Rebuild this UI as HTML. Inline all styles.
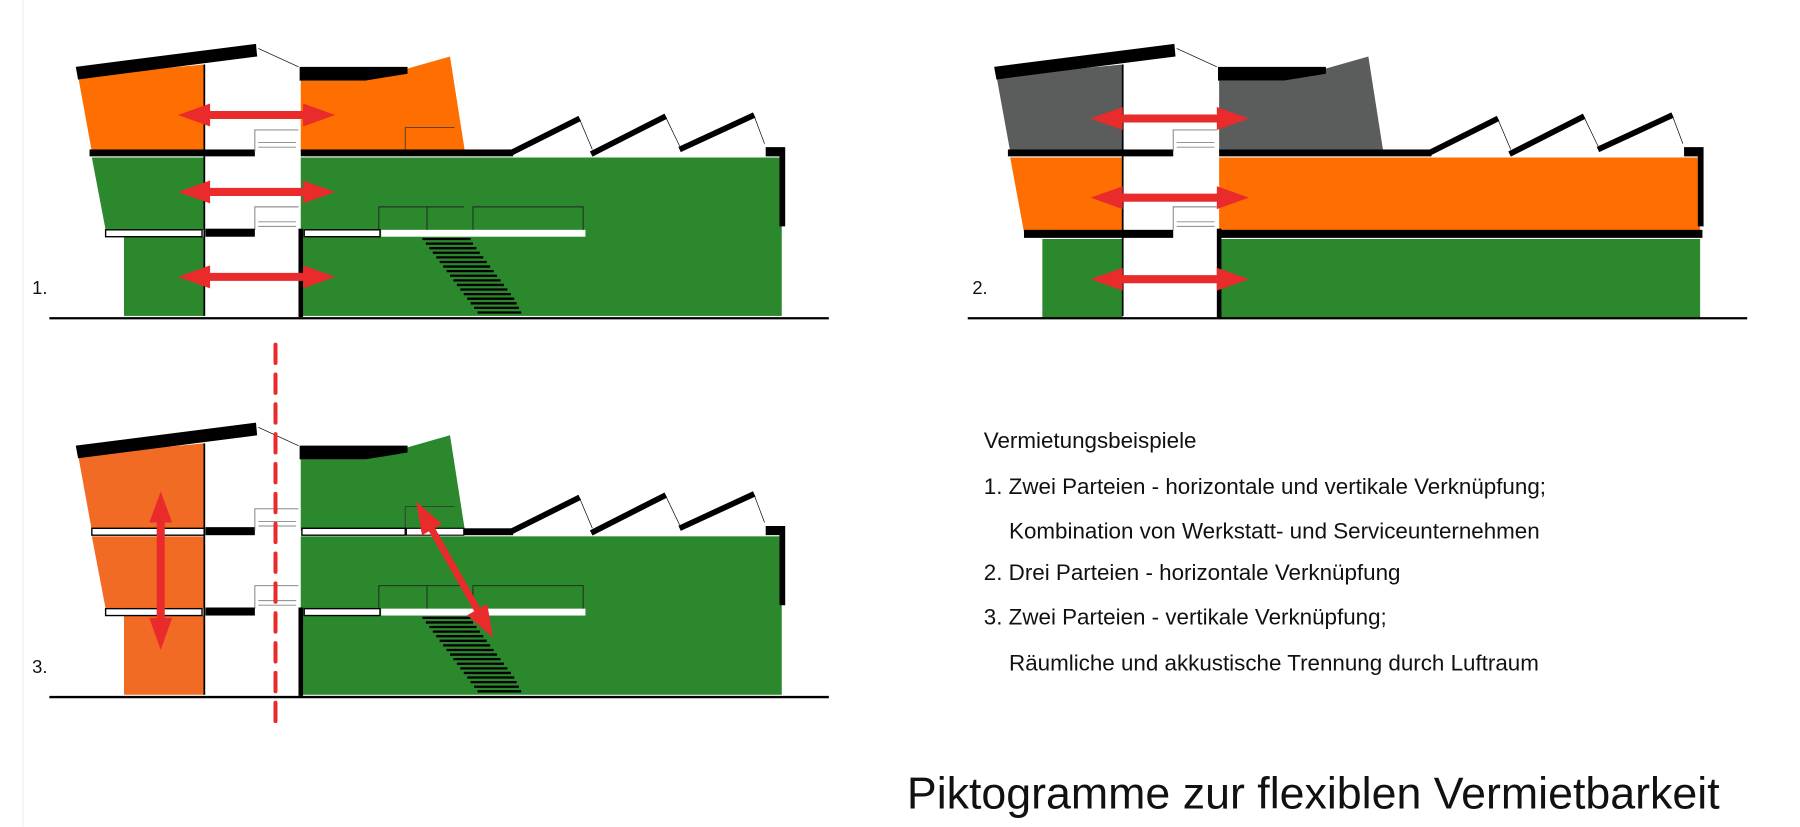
<!DOCTYPE html>
<html><head><meta charset="utf-8"><style>
html,body{margin:0;padding:0;background:#fff;}
svg{display:block}
text{font-family:"Liberation Sans",Arial,sans-serif;fill:#111}
</style></head><body>
<svg width="1800" height="827" viewBox="0 0 1568 720" xmlns="http://www.w3.org/2000/svg">
<line x1="20" y1="0" x2="20" y2="720" stroke="#eee" stroke-width="1"/>
<defs>
<g id="saw">
  <line x1="445" y1="133" x2="505" y2="103" stroke="#000" stroke-width="5"/>
  <line x1="515" y1="134" x2="580" y2="101" stroke="#000" stroke-width="5"/>
  <line x1="592" y1="130" x2="657" y2="100" stroke="#000" stroke-width="5"/>
  <line x1="505" y1="104" x2="516" y2="130" stroke="#000" stroke-width="0.6"/>
  <line x1="580" y1="102" x2="592" y2="127" stroke="#000" stroke-width="0.6"/>
  <line x1="657" y1="101" x2="666" y2="125" stroke="#000" stroke-width="0.6"/>
  <polygon points="66,58 223,38 224,49 68,69" fill="#000"/>
  <line x1="225" y1="42" x2="260" y2="58" stroke="#000" stroke-width="0.6"/>
  <polygon points="261,58 355,58 355,64 318,70 261,70" fill="#000"/>
  <polygon points="667,128 684,128 684,197 679,197 679,136 667,136" fill="#000"/>
  <line x1="43" y1="277" x2="722" y2="277" stroke="#000" stroke-width="2"/>
  <line x1="178" y1="56" x2="178" y2="275" stroke="#000" stroke-width="1.5"/>
  <path d="M222,132 V113 H260 M222,200 V180 H260" fill="none" stroke="#777" stroke-width="0.8"/>
  <path d="M225,124 H258 M225,128 H258 M225,193 H258 M225,197 H258" stroke="#888" stroke-width="0.8"/>
</g>
<g id="stairs" stroke="#000" stroke-width="2">
  <line x1="368" y1="208" x2="410" y2="208"/><line x1="371" y1="212" x2="412" y2="212"/>
  <line x1="374" y1="216" x2="415" y2="216"/><line x1="377" y1="220" x2="418" y2="220"/>
  <line x1="380" y1="224" x2="421" y2="224"/><line x1="383" y1="228" x2="424" y2="228"/>
  <line x1="386" y1="232" x2="427" y2="232"/><line x1="389" y1="236" x2="430" y2="236"/>
  <line x1="392" y1="240" x2="433" y2="240"/><line x1="395" y1="244" x2="436" y2="244"/>
  <line x1="398" y1="248" x2="439" y2="248"/><line x1="401" y1="252" x2="442" y2="252"/>
  <line x1="404" y1="256" x2="445" y2="256"/><line x1="407" y1="260" x2="448" y2="260"/>
  <line x1="410" y1="264" x2="450" y2="264"/><line x1="413" y1="268" x2="452" y2="268"/>
  <line x1="416" y1="272" x2="454" y2="272"/>
</g>
</defs>

<!-- Diagram 1 -->
<g>
  <polygon points="68,66 178,56 178,132 80,132" fill="#ff6e00"/>
  <polygon points="262,70 318,70 392,49 405,132 262,132" fill="#ff6e00"/>
  <path d="M353,132 V111 H396" fill="none" stroke="#333" stroke-width="0.7"/>
  <polygon points="80,137 178,137 178,200 92,200" fill="#2b882c"/>
  <rect x="262" y="137" width="419" height="138" fill="#2b882c"/>
  <rect x="108" y="206" width="70" height="69" fill="#2b882c"/>
  <rect x="78" y="130" width="144" height="6" fill="#000"/>
  <rect x="262" y="130" width="185" height="6" fill="#000"/>
  <use href="#saw"/>
  <rect x="92" y="200" width="84" height="6" fill="#fff" stroke="#000" stroke-width="1.2"/>
  <rect x="179" y="199" width="43" height="7" fill="#000"/>
  <rect x="265" y="200" width="66" height="6" fill="#fff" stroke="#000" stroke-width="1.2"/>
  <rect x="332" y="200" width="178" height="6" fill="#fff"/>
  <path d="M330,200 V180 H372 V200 M372,180 H404 M412,200 V180 H508 V200" fill="none" stroke="#222" stroke-width="0.8"/>
  <rect x="260" y="199" width="4" height="77" fill="#000"/>
  <use href="#stairs"/>
  <polygon fill="#ea2b2b" points="155,100 183,90 183,96.5 264,96.5 264,90 292,100 264,110 264,103.5 183,103.5 183,110"/>
  <polygon fill="#ea2b2b" points="155,167 183,157 183,163.5 264,163.5 264,157 292,167 264,177 264,170.5 183,170.5 183,177"/>
  <polygon fill="#ea2b2b" points="155,241 183,231 183,237.5 264,237.5 264,231 292,241 264,251 264,244.5 183,244.5 183,251"/>
  <text x="28" y="256" font-size="16">1.</text>
</g>

<!-- Diagram 2 -->
<g transform="translate(800,0)">
  <polygon points="68,66 178,56 178,132 80,132" fill="#5b5c5c"/>
  <polygon points="262,70 318,70 392,49 405,132 262,132" fill="#5b5c5c"/>
  <polygon points="80,137 178,137 178,202 92,202" fill="#ff6e00"/>
  <rect x="262" y="137" width="419" height="65" fill="#ff6e00"/>
  <rect x="108" y="208" width="70" height="69" fill="#2b882c"/>
  <rect x="262" y="208" width="419" height="69" fill="#2b882c"/>
  <rect x="78" y="130" width="144" height="6" fill="#000"/>
  <rect x="262" y="130" width="185" height="6" fill="#000"/>
  <use href="#saw"/>
  <rect x="92" y="200" width="130" height="7" fill="#000"/>
  <rect x="262" y="200" width="421" height="7" fill="#000"/>
  <rect x="260" y="199" width="4" height="78" fill="#000"/>
  <polygon fill="#ea2b2b" points="150,103 178,93 178,99.5 260,99.5 260,93 288,103 260,113 260,106.5 178,106.5 178,113"/>
  <polygon fill="#ea2b2b" points="150,172 178,162 178,168.5 260,168.5 260,162 288,172 260,182 260,175.5 178,175.5 178,182"/>
  <polygon fill="#ea2b2b" points="150,243 178,233 178,239.5 260,239.5 260,233 288,243 260,253 260,246.5 178,246.5 178,253"/>
  <text x="47" y="256" font-size="16">2.</text>
</g>

<!-- Diagram 3 -->
<g transform="translate(0,330)">
  <polygon points="68,66 178,56 178,132 80,132" fill="#f26b25"/>
  <polygon points="262,70 318,70 392,49 405,132 262,132" fill="#2b882c"/>
  <path d="M353,132 V111 H396" fill="none" stroke="#333" stroke-width="0.7"/>
  <polygon points="80,137 178,137 178,200 92,200" fill="#f26b25"/>
  <rect x="262" y="137" width="419" height="138" fill="#2b882c"/>
  <rect x="108" y="206" width="70" height="69" fill="#f26b25"/>
  <rect x="80" y="130" width="98" height="6" fill="#fff" stroke="#000" stroke-width="1.2"/>
  <rect x="179" y="129" width="43" height="7" fill="#000"/>
  <rect x="263" y="130" width="90" height="6" fill="#fff" stroke="#000" stroke-width="1.2"/>
  <rect x="354" y="130" width="50" height="6" fill="#fff" stroke="#000" stroke-width="1"/>
  <rect x="404" y="130" width="43" height="6" fill="#000"/>
  <use href="#saw"/>
  <rect x="92" y="200" width="84" height="6" fill="#fff" stroke="#000" stroke-width="1.2"/>
  <rect x="179" y="199" width="43" height="7" fill="#000"/>
  <rect x="265" y="200" width="66" height="6" fill="#fff" stroke="#000" stroke-width="1.2"/>
  <rect x="332" y="200" width="178" height="6" fill="#fff"/>
  <path d="M330,200 V180 H372 V200 M372,180 H404 M412,200 V180 H508 V200" fill="none" stroke="#222" stroke-width="0.8"/>
  <rect x="260" y="199" width="4" height="77" fill="#000"/>
  <use href="#stairs"/>
  <line x1="240" y1="-30" x2="240" y2="302" stroke="#ea2b2b" stroke-width="3.5" stroke-dasharray="16,10" stroke-linecap="round"/>
  <polygon fill="#ea2b2b" points="140,98 150,125 143.5,125 143.5,208 150,208 140,236 130,208 136.5,208 136.5,125 130,125"/>
  <g transform="translate(396,166) rotate(60.5)">
    <polygon fill="#ea2b2b" points="-68,0 -40,-10 -40,-3 40,-3 40,-10 68,0 40,10 40,3 -40,3 -40,10"/>
  </g>
  <text x="28" y="256" font-size="16">3.</text>
</g>

<text x="857" y="390" font-size="19.5">Vermietungsbeispiele</text>
<text x="857" y="430" font-size="19.5">1. Zwei Parteien - horizontale und vertikale Verknüpfung;</text>
<text x="879" y="469" font-size="19.5">Kombination von Werkstatt- und Serviceunternehmen</text>
<text x="857" y="505" font-size="19.5">2. Drei Parteien - horizontale Verknüpfung</text>
<text x="857" y="544" font-size="19.5">3. Zwei Parteien - vertikale Verknüpfung;</text>
<text x="879" y="584" font-size="19.5">Räumliche und akkustische Trennung durch Luftraum</text>
<text x="790" y="704" font-size="39" textLength="708" lengthAdjust="spacingAndGlyphs">Piktogramme zur flexiblen Vermietbarkeit</text>
</svg>
</body></html>
